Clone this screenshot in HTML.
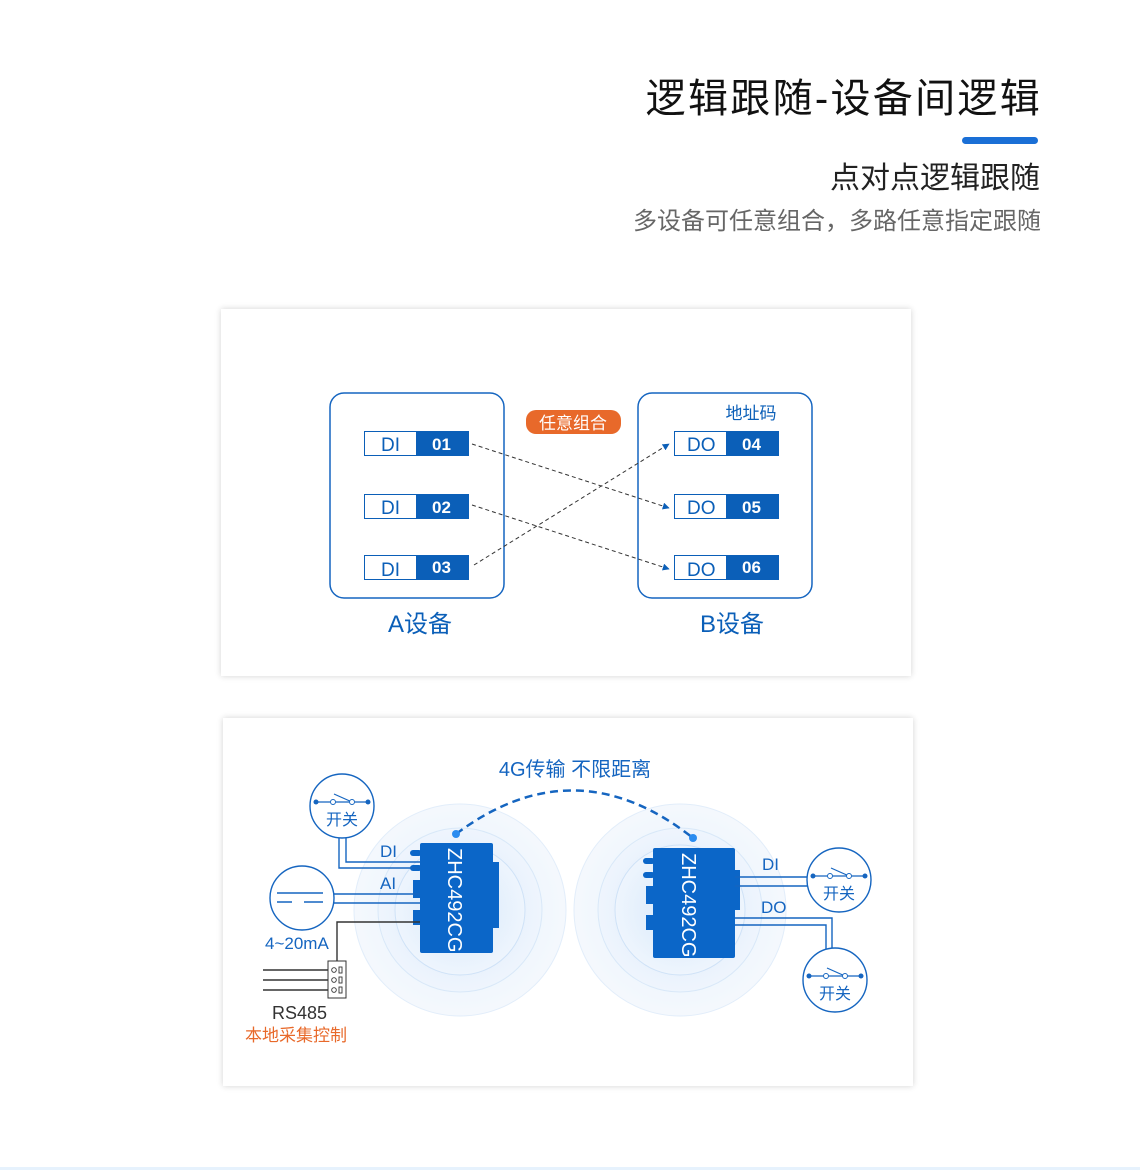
<!DOCTYPE html>
<html><head><meta charset="utf-8"><style>
body{margin:0;background:#fff;width:1140px;height:1170px;position:relative;overflow:hidden;font-family:"Liberation Sans","Noto Sans CJK SC",sans-serif}
.t{position:absolute;right:100px;white-space:nowrap}
.card{position:absolute;background:#fff;box-shadow:0 0 6px rgba(0,0,0,0.18)}
</style></head><body>
<div class="t" style="top:66px;font-size:40px;color:#111;letter-spacing:2.3px;right:98px">逻辑跟随-设备间逻辑</div>
<div style="position:absolute;left:962px;top:137px;width:76px;height:7px;border-radius:4px;background:#1a6fd6"></div>
<div class="t" style="top:153px;font-size:30px;color:#222">点对点逻辑跟随</div>
<div class="t" style="top:201px;font-size:24px;color:#666;right:99px">多设备可任意组合，多路任意指定跟随</div>
<div class="card" style="left:221px;top:309px;width:690px;height:367px"></div>
<div class="card" style="left:223px;top:718px;width:690px;height:368px"></div>
<div style="position:absolute;left:0;top:1167px;width:1140px;height:3px;background:#e6f2fd"></div>
<svg width="1140" height="1170" style="position:absolute;left:0;top:0" font-family="Liberation Sans,Noto Sans CJK SC,sans-serif">
<defs>
<marker id="ar" viewBox="0 0 10 10" refX="9" refY="5" markerWidth="7" markerHeight="7" orient="auto"><path d="M0,0L10,5L0,10z" fill="#0b5fb8"/></marker>
<radialGradient id="rg"><stop offset="0" stop-color="#d6e8fb"/><stop offset="1" stop-color="#eef5fd"/></radialGradient>
</defs>
<rect x="330" y="393" width="174" height="205" rx="14" fill="none" stroke="#1565c0" stroke-width="1.5"/>
<rect x="638" y="393" width="174" height="205" rx="14" fill="none" stroke="#1565c0" stroke-width="1.5"/>
<g font-size="19">
<g id="r"><rect x="364.5" y="431.5" width="104" height="24" fill="#fff" stroke="#0b5fb8"/><rect x="416" y="431" width="53" height="25" fill="#0b5fb8"/></g>
<use href="#r" y="63"/><use href="#r" y="124"/>
<use href="#r" x="310"/><use href="#r" x="310" y="63"/><use href="#r" x="310" y="124"/>
<g fill="#0b5fb8"><text x="381" y="451">DI</text><text x="381" y="514">DI</text><text x="381" y="576">DI</text>
<text x="687" y="451">DO</text><text x="687" y="514">DO</text><text x="687" y="576">DO</text></g>
<g fill="#fff" font-weight="bold" font-size="17"><text x="432" y="450">01</text><text x="432" y="513">02</text><text x="432" y="573">03</text>
<text x="742" y="450">04</text><text x="742" y="513">05</text><text x="742" y="573">06</text></g>
</g>
<g stroke="#333" stroke-width="1" stroke-dasharray="4,3" fill="none" marker-end="url(#ar)">
<line x1="472" y1="444" x2="669" y2="508"/><line x1="472" y1="505" x2="669" y2="569"/><line x1="474" y1="565" x2="669" y2="444"/></g>
<rect x="526" y="410" width="95" height="24" rx="10" fill="#e8692a"/>
<text x="573" y="429" font-size="17" fill="#fff" text-anchor="middle">任意组合</text>
<text x="751" y="419" font-size="17" fill="#0b5fb8" text-anchor="middle">地址码</text>
<text x="420" y="632" font-size="24" fill="#0b5fb8" text-anchor="middle">A设备</text>
<text x="732" y="632" font-size="24" fill="#0b5fb8" text-anchor="middle">B设备</text>

<text x="575" y="776" font-size="20" fill="#1565c0" text-anchor="middle">4G传输 不限距离</text>
<g fill="url(#rg)" stroke="#cfe2f7">
<circle cx="460" cy="910" r="106" opacity="0.6"/><circle cx="460" cy="910" r="82" opacity="0.7"/><circle cx="460" cy="910" r="65"/>
<circle cx="680" cy="910" r="106" opacity="0.6"/><circle cx="680" cy="910" r="82" opacity="0.7"/><circle cx="680" cy="910" r="65"/></g>
<path d="M456,834 Q575,745 693,838" fill="none" stroke="#1565c0" stroke-width="2.5" stroke-dasharray="8,5"/>
<circle cx="456" cy="834" r="4" fill="#2b8cf0"/><circle cx="693" cy="838" r="4" fill="#2b8cf0"/>
<g fill="#0b66c8">
<rect x="420" y="843" width="73" height="110" rx="2"/><rect x="490" y="862" width="9" height="66"/>
<rect x="410" y="850" width="12" height="6" rx="3"/><rect x="410" y="865" width="12" height="6" rx="3"/>
<rect x="413" y="880" width="9" height="18"/><rect x="413" y="910" width="9" height="15"/>
<rect x="653" y="848" width="82" height="110" rx="2"/>
<rect x="643" y="858" width="12" height="6" rx="3"/><rect x="643" y="872" width="12" height="6" rx="3"/>
<rect x="646" y="886" width="9" height="18"/><rect x="646" y="915" width="9" height="15"/>
<rect x="733" y="870" width="7" height="40"/></g>
<text transform="translate(448,848) rotate(90)" font-size="20" fill="#fff">ZHC492CG</text>
<text transform="translate(682,853) rotate(90)" font-size="20" fill="#fff">ZHC492CG</text>
<g fill="none" stroke-width="1.4">
<path d="M346,838V862H420M339,838V868H420" stroke="#1565c0"/>
<path d="M334,894H420M334,903H420" stroke="#1565c0"/>
<path d="M337,962V922H420" stroke="#333"/>
<path d="M263,970H330M263,980H330M263,990H330" stroke="#333"/>
<path d="M735,877H808M735,886H808" stroke="#1565c0"/>
<path d="M735,918H832V950M735,925H826V950" stroke="#1565c0"/>
</g>
<rect x="328" y="961" width="18" height="37" fill="#fff" stroke="#333"/>
<g fill="none" stroke="#333" stroke-width="0.9"><circle cx="334" cy="970" r="2.3"/><circle cx="334" cy="980" r="2.3"/><circle cx="334" cy="990" r="2.3"/><rect x="339" y="967" width="3" height="6"/><rect x="339" y="977" width="3" height="6"/><rect x="339" y="987" width="3" height="6"/></g>
<g font-size="17" fill="#1565c0"><text x="380" y="857">DI</text><text x="380" y="889">AI</text><text x="762" y="870">DI</text><text x="761" y="913">DO</text>
<text x="265" y="949">4~20mA</text></g>
<text x="272" y="1019" font-size="18" fill="#333">RS485</text>
<text x="245" y="1041" font-size="17" fill="#e8692a">本地采集控制</text>
<circle cx="302" cy="898" r="32" fill="#fff" stroke="#1565c0" stroke-width="1.4"/>
<path d="M277,893H323M277,902H292M304,902H323" stroke="#1565c0" stroke-width="1.4"/>
<g id="sw"><circle cx="342" cy="806" r="32" fill="#fff" stroke="#1565c0" stroke-width="1.4"/>
<path d="M316,802H330M336,802H349M355,802H368M334,794L352,802" stroke="#1565c0" stroke-width="1.2" fill="none"/>
<circle cx="316" cy="802" r="2.5" fill="#1565c0"/><circle cx="368" cy="802" r="2.5" fill="#1565c0"/>
<circle cx="333" cy="802" r="2.5" fill="#fff" stroke="#1565c0"/><circle cx="352" cy="802" r="2.5" fill="#fff" stroke="#1565c0"/>
<text x="342" y="825" font-size="16" fill="#1565c0" text-anchor="middle">开关</text></g>
<use href="#sw" x="497" y="74"/><use href="#sw" x="493" y="174"/>
</svg>
</body></html>
